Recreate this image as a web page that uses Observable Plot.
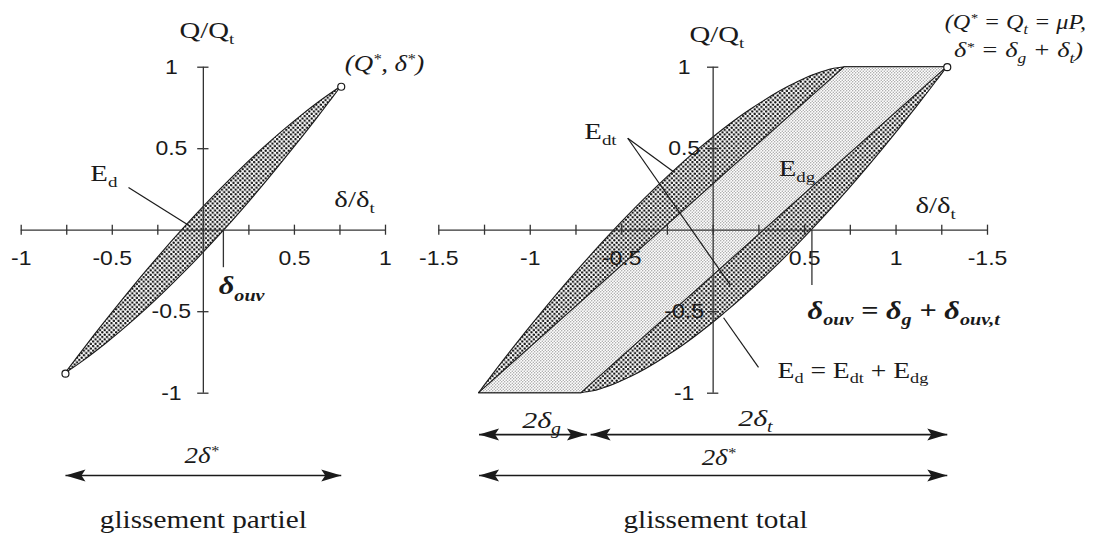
<!DOCTYPE html>
<html><head><meta charset="utf-8">
<script src="https://cdn.jsdelivr.net/npm/d3@7"></script>
<script src="https://cdn.jsdelivr.net/npm/@observablehq/plot@0.6"></script>
<style>
html,body{margin:0;padding:0;background:#fff;}
#chart{position:relative;width:1105px;height:536px;overflow:hidden;background:#fff;}
#chart svg{position:absolute;top:0;overflow:visible;background:none;}
</style></head>
<body>
<svg width="0" height="0" style="position:absolute">
  <defs>
    <pattern id="dense" width="4.6" height="4.6" patternUnits="userSpaceOnUse">
      <rect width="4.6" height="4.6" fill="#fff"/>
      <circle cx="1.15" cy="1.15" r="1.2" fill="#111"/>
      <circle cx="3.45" cy="3.45" r="1.2" fill="#111"/>
    </pattern>
    <pattern id="light" width="3" height="3" patternUnits="userSpaceOnUse">
      <rect width="3" height="3" fill="#fff"/>
      <circle cx="0.75" cy="0.75" r="0.68" fill="#999"/>
      <circle cx="2.25" cy="2.25" r="0.68" fill="#999"/>
    </pattern>
  </defs>
</svg>
<div id="chart"></div>
<script>
// ---------------- data ----------------
// glissement partiel : Q/Qt levels and the two branches (delta/delta_t)
const partialQ      = [-0.88, -0.8, -0.7, -0.5, -0.25, 0, 0.25, 0.5, 0.7, 0.8, 0.88];
const partialReload = [-0.757, -0.703, -0.635, -0.494, -0.311, -0.116, 0.095, 0.327, 0.537, 0.654, 0.757];
const partialUnload = [-0.757, -0.654, -0.537, -0.327, -0.095, 0.116, 0.311, 0.494, 0.635, 0.703, 0.757];
const partialPeakX  = [-0.757, 0.757];
const partialPeakY  = [-0.88, 0.88];
const partialDeltaOuv = 0.11;

// glissement total
const totalQ      = [-1, -0.99, -0.97, -0.9, -0.75, -0.5, -0.25, 0, 0.25, 0.5, 0.75, 0.9, 0.97, 0.99, 1];
const totalReload = [-1.28, -1.273, -1.26, -1.213, -1.11, -0.931, -0.742, -0.54, -0.32, -0.074, 0.22, 0.449, 0.598, 0.662, 0.72];
const totalUnload = [-0.72, -0.662, -0.598, -0.449, -0.22, 0.074, 0.32, 0.54, 0.742, 0.931, 1.11, 1.213, 1.26, 1.273, 1.28];
const slipQ     = [-1, 1];
const slipLeft  = [-1.28, 0.72];
const slipRight = [-0.72, 1.28];
const totalPeakX = [1.28];
const totalPeakY = [1];
const totalDeltaOuv = 0.54;

// axes
const partialXTicks = [-1, -0.75, -0.5, -0.25, 0, 0.25, 0.5, 0.75, 1];
const partialXLabelValues = [-1, -0.5, 0.5, 1];
const partialXLabels = ["-1", "-0.5", "0.5", "1"];
const totalXTicks = [-1.5, -1.25, -1, -0.75, -0.5, -0.25, 0, 0.25, 0.5, 0.75, 1, 1.25, 1.5];
const totalXLabelValues = [-1.5, -1, -0.5, 0.5, 1, 1.5];
const totalXLabels = ["-1.5", "-1", "-0.5", "0.5", "1", "-1.5"];
const yTicks = [-1, -0.5, 0.5, 1];
const yLabels = ["-1", "-0.5", "0.5", "1"];

// dimension arrows (spans in delta/delta_t)
const partialArrows = [[-0.757, 0.757]];
const totalArrowsTop = [[-1.28, -0.69], [-0.67, 1.28]];
const totalArrowsBottom = [[-1.28, 1.28]];

// ---------------- helpers ----------------
const INK = "#1a1a1a";
const head = {draw(ctx) { ctx.moveTo(0, 0); ctx.lineTo(-20, -6); ctx.lineTo(-16, 0); ctx.lineTo(-20, 6); ctx.closePath(); }};
const serif = {fontFamily: "Liberation Serif", fontSize: 23, ariaDescription: "sx:1.25"};
const title = {fontFamily: "Liberation Serif", fontSize: 25, ariaDescription: "sx:1.17"};
const sans = {fontFamily: "Liberation Sans", fontSize: 20, ariaDescription: "sx:1.15"};
const math = {fontFamily: "Liberation Serif", fontStyle: "italic", fontSize: 24, ariaDescription: "sx:1.12"};
const mathB = {fontFamily: "Liberation Serif", fontStyle: "italic", fontWeight: "bold", fontSize: 25, ariaDescription: "sx:1.22"};

function T(text, x, y, o = {}) {
  return Plot.text([{text, x, y}], {x: "x", y: "y", text: "text", fill: INK, ...o});
}
function arrows(spans, y) {
  const data = spans.map(([a, b]) => ({a, b}));
  return [
    Plot.link(data, {x1: "a", x2: "b", y1: () => y, y2: () => y, stroke: INK, strokeWidth: 1.6}),
    Plot.dot(data, {x: "b", y: () => y, symbol: head, fill: INK, stroke: "none", rotate: 0}),
    Plot.dot(data, {x: "a", y: () => y, symbol: head, fill: INK, stroke: "none", rotate: 180})
  ];
}
function axes(xmin, xmax, xTicks, xLabelValues, xLabels, yLabelDx) {
  return [
    Plot.ruleY([0], {x1: xmin, x2: xmax, stroke: "#333", strokeWidth: 1.3}),
    Plot.ruleX([0], {y1: -1, y2: 1, stroke: "#333", strokeWidth: 1.3}),
    Plot.ruleX(xTicks, {x: d => d, y1: -0.031, y2: 0.031, stroke: "#333", strokeWidth: 1.3}),
    Plot.ruleY(yTicks, {y: d => d, x1: -0.031, x2: 0.031, stroke: "#333", strokeWidth: 1.3}),
    Plot.text(xLabelValues, {x: d => d, y: () => -0.174, text: (d, i) => xLabels[i], fill: INK, ...sans}),
    Plot.text(yTicks, {x: () => 0, y: d => d, dx: yLabelDx, text: (d, i) => yLabels[i], fill: INK, ...sans})
  ];
}

const partialLoop = partialQ.map((Q, i) => ({Q, reload: partialReload[i], unload: partialUnload[i]}));
const totalLoop = totalQ.map((Q, i) => ({Q, reload: totalReload[i], unload: totalUnload[i]}));
const slipBand = slipQ.map((Q, i) => ({Q, left: slipLeft[i], right: slipRight[i]}));

const common = {height: 536, marginTop: 66.7, marginBottom: 143.3, y: {domain: [-1, 1], axis: null}, style: {background: "none", overflow: "visible"}};

// ---------------- left panel ----------------
const left = Plot.plot({
  ...common, width: 420, marginLeft: 20.7, marginRight: 35,
  x: {domain: [-1, 1], axis: null},
  marks: [
    Plot.areaX(partialLoop, {y: "Q", x1: "reload", x2: "unload", curve: "monotone-y", fill: "url(#dense)", stroke: INK, strokeWidth: 1.1}),
    ...axes(-1, 1, partialXTicks, partialXLabelValues, partialXLabels, -32),
    Plot.ruleX([partialDeltaOuv], {x: d => d, y1: 0, y2: -0.23, stroke: "#333", strokeWidth: 1.3}),
    Plot.link([{x1: -0.411, y1: 0.262, x2: -0.07, y2: 0.023}], {x1: "x1", y1: "y1", x2: "x2", y2: "y2", stroke: INK, strokeWidth: 1.2}),
    Plot.dot(partialPeakX, {x: d => d, y: (d, i) => partialPeakY[i], r: 3.5, fill: "#fff", stroke: INK, strokeWidth: 1.2}),
    T("Q/Q_{t}", 0.02, 1.225, serif),
    T("δ/δ_{t}", 0.83, 0.188, serif),
    T("E_{d}", -0.546, 0.345, serif),
    T("(Q^{*}, δ^{*})", 0.994, 1.023, math),
    T("δ_{ouv}", 0.21, -0.345, mathB),
    T("2δ^{*}", -0.01, -1.383, math),
    ...arrows(partialArrows, -1.505),
    T("glissement partiel", 0, -1.775, title)
  ]
});

// ---------------- right panel ----------------
const right = Plot.plot({
  ...common, width: 685, marginLeft: 18.3, marginRight: 118,
  x: {domain: [-1.5, 1.5], axis: null},
  marks: [
    Plot.areaX(totalLoop, {y: "Q", x1: "reload", x2: "unload", curve: "monotone-y", fill: "url(#dense)", stroke: INK, strokeWidth: 1.1}),
    Plot.areaX(slipBand, {y: "Q", x1: "left", x2: "right", fill: "url(#light)", stroke: INK, strokeWidth: 1.1}),
    ...axes(-1.5, 1.5, totalXTicks, totalXLabelValues, totalXLabels, -29),
    Plot.ruleX([totalDeltaOuv], {x: d => d, y1: 0, y2: -0.34, stroke: "#333", strokeWidth: 1.3}),
    Plot.link([
      {x1: -0.467, y1: 0.564, x2: -0.211, y2: 0.354},
      {x1: -0.467, y1: 0.564, x2: 0.095, y2: -0.339},
      {x1: 0.248, y1: -0.842, x2: 0.057, y2: -0.537}
    ], {x1: "x1", y1: "y1", x2: "x2", y2: "y2", stroke: INK, strokeWidth: 1.2}),
    Plot.dot(totalPeakX, {x: d => d, y: (d, i) => totalPeakY[i], r: 3.5, fill: "#fff", stroke: INK, strokeWidth: 1.2}),
    T("Q/Q_{t}", 0.02, 1.2, serif),
    T("δ/δ_{t}", 1.216, 0.15, serif),
    T("E_{dt}", -0.616, 0.605, serif),
    T("E_{dg}", 0.458, 0.378, serif),
    T("(Q^{*} = Q_{t} = μP,", 1.653, 1.28, {...math, fontSize: 22, ariaDescription: "sx:1.1"}),
    T("δ^{*} = δ_{g} + δ_{t})", 1.67, 1.105, {...math, fontSize: 22, ariaDescription: "sx:1.2"}),
    T("δ_{ouv} = δ_{g} + δ_{ouv,t}", 0.516, -0.493, {...mathB, textAnchor: "start"}),
    T("E_{d} = E_{dt} + E_{dg}", 0.352, -0.86, {...serif, textAnchor: "start", ariaDescription: "sx:1.2"}),
    T("2δ_{g}", -0.938, -1.168, {...math, ariaDescription: "sx:1.25"}),
    T("2δ_{t}", 0.231, -1.156, {...math, ariaDescription: "sx:1.25"}),
    T("2δ^{*}", 0.03, -1.394, math),
    ...arrows(totalArrowsTop, -1.254),
    ...arrows(totalArrowsBottom, -1.505),
    T("glissement total", 0.013, -1.775, title)
  ]
});

const chart = document.getElementById("chart");
left.style.left = "0px";
right.style.left = "420px";
chart.append(left, right);

// ---------------- text post-processing (sub/superscripts, stretch) ----------------
const NS = "http://www.w3.org/2000/svg";
function richify(svg) {
  svg.querySelectorAll("text").forEach(t => {
    const s = t.textContent;
    if (!/[_^]\{/.test(s)) return;
    const fs = parseFloat(getComputedStyle(t).fontSize) || 16;
    while (t.firstChild) t.removeChild(t.firstChild);
    const re = /([_^])\{([^}]*)\}/g;
    let last = 0, m, shift = 0;
    const add = (str, kind) => {
      const ts = document.createElementNS(NS, "tspan");
      const target = kind === "_" ? 0.25 * fs : kind === "^" ? -0.3 * fs : 0;
      if (target - shift !== 0) ts.setAttribute("dy", (target - shift).toFixed(2));
      shift = target;
      if (kind) ts.setAttribute("font-size", ((kind === "^" ? 0.6 : 0.66) * fs).toFixed(2));
      ts.textContent = str;
      t.appendChild(ts);
    };
    while ((m = re.exec(s))) {
      if (m.index > last) add(s.slice(last, m.index), null);
      add(m[2], m[1]);
      last = re.lastIndex;
    }
    if (last < s.length) add(s.slice(last), null);
  });
}
function stretch(svg) {
  svg.querySelectorAll("g[aria-description^='sx:']").forEach(g => {
    const s = parseFloat(g.getAttribute("aria-description").slice(3));
    g.querySelectorAll("text").forEach(t => {
      let tr = t.getAttribute("transform");
      if (!tr) {
        const x = t.getAttribute("x") || 0, y = t.getAttribute("y") || 0;
        t.removeAttribute("x"); t.removeAttribute("y");
        tr = `translate(${x},${y})`;
      }
      t.setAttribute("transform", tr + ` scale(${s},1)`);
    });
  });
}
[left, right].forEach(svg => { richify(svg); stretch(svg); });
</script>
</body></html>
